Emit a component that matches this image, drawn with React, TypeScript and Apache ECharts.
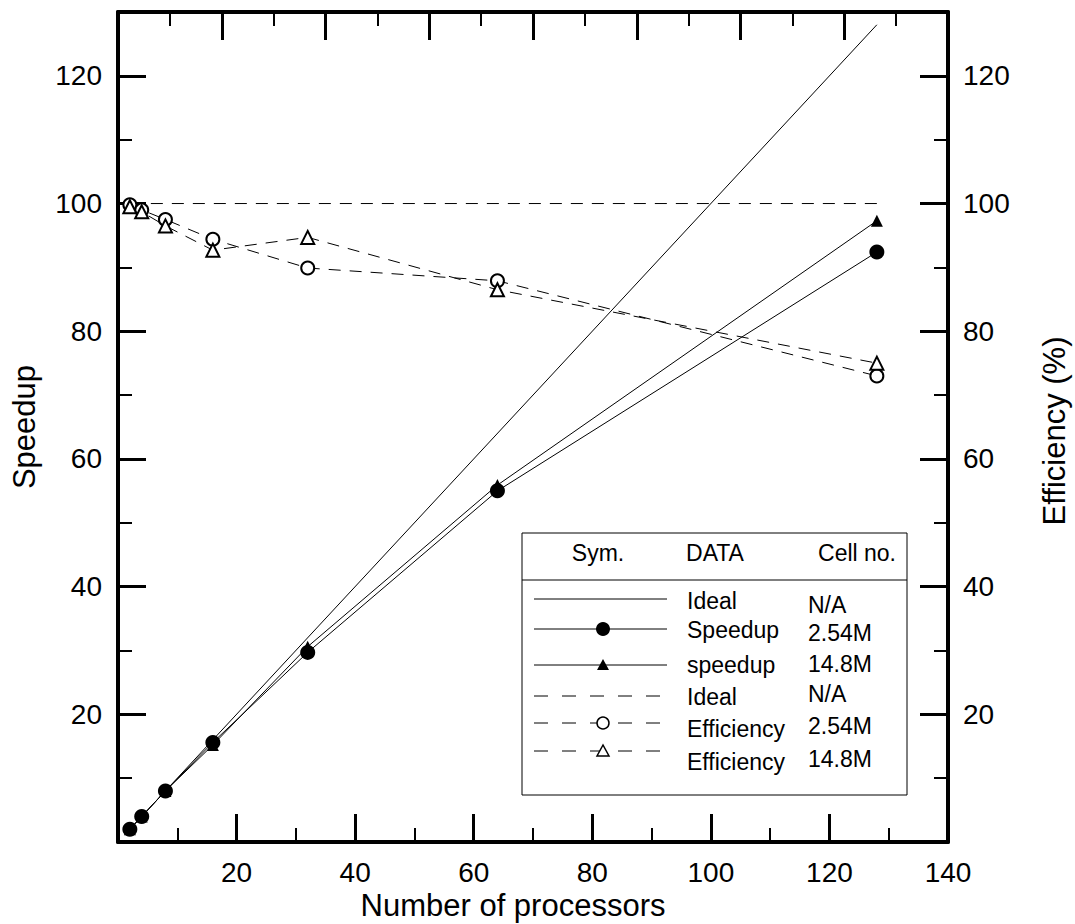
import React, { useEffect, useRef } from 'react';
import * as echarts from 'echarts';

const processors = [2, 4, 8, 16, 32, 64, 128];
const idealProcessors = [2, 128];
const speedup254 = [2, 4, 8, 15.6, 29.7, 55, 92.4];
const speedup148 = [2, 4, 8, 15.2, 30.6, 55.9, 97.3];
const efficiency254 = [99.8, 99, 97.5, 94.4, 89.9, 87.9, 73];
const efficiency148 = [99.5, 98.7, 96.5, 92.7, 94.7, 86.5, 75];
const idealEfficiency = 100;

const xTitle = 'Number of processors';
const yLeftTitle = 'Speedup';
const yRightTitle = 'Efficiency (%)';
const legendHeader = ['Sym.', 'DATA', 'Cell no.'];
const legendData = ['Ideal', 'Speedup', 'speedup', 'Ideal', 'Efficiency', 'Efficiency'];
const legendCells = ['N/A', '2.54M', '14.8M', 'N/A', '2.54M', '14.8M'];

const FONT = '"Liberation Sans", Arial, Helvetica, sans-serif';
const BLACK = '#000';

function pairs(xs: number[], ys: number[]) {
  return xs.map((x, i) => [x, ys[i]]);
}

export default function App() {
  const ref = useRef<HTMLDivElement>(null);

  useEffect(() => {
    if (!ref.current) return;
    const chart = echarts.init(ref.current, undefined, { renderer: 'svg' });

    const axisLine = { show: true, onZero: false, lineStyle: { color: BLACK, width: 4 } };
    const axisTick = { show: true, inside: true, length: 28, lineStyle: { color: BLACK, width: 3 } };
    const minorTick = { show: true, splitNumber: 2, length: 14, lineStyle: { color: BLACK, width: 2 } };
    const labelFmt = (v: number) => (v === 0 || v % 20 !== 0 ? '' : String(v));
    const axisLabel = { show: true, color: BLACK, fontSize: 28, fontFamily: FONT, formatter: labelFmt };

    const titleFont = `31px ${FONT}`;
    const legendFont = `23px ${FONT}`;

    // legend graphics
    const bx = 522, by = 533, bw = 385, bh = 262;
    const rowY = [601, 630, 665, 697, 729, 762];
    const lineY = [599, 629, 665, 696, 723, 751];
    const cellY = [605, 633, 664, 694, 726, 759];
    const graphics: any[] = [
      { type: 'text', x: 24, y: 427, rotation: Math.PI / 2, style: { text: yLeftTitle, font: titleFont, fill: BLACK, textAlign: 'center', textVerticalAlign: 'middle' } },
      { type: 'text', x: 1054, y: 431, rotation: Math.PI / 2, style: { text: yRightTitle, font: titleFont, fill: BLACK, textAlign: 'center', textVerticalAlign: 'middle' } },
      { type: 'text', x: 513, y: 905, style: { text: xTitle, font: titleFont, fill: BLACK, textAlign: 'center', textVerticalAlign: 'middle' } },
      { type: 'rect', shape: { x: bx, y: by, width: bw, height: bh }, style: { fill: '#fff', stroke: BLACK, lineWidth: 1 }, z: 100 },
      { type: 'line', shape: { x1: bx, y1: 580, x2: bx + bw, y2: 580 }, style: { stroke: BLACK, lineWidth: 1 }, z: 101 },
      { type: 'text', x: 598, y: 553, style: { text: legendHeader[0], font: legendFont, fill: BLACK, textAlign: 'center', textVerticalAlign: 'middle' }, z: 101 },
      { type: 'text', x: 715, y: 553, style: { text: legendHeader[1], font: legendFont, fill: BLACK, textAlign: 'center', textVerticalAlign: 'middle' }, z: 101 },
      { type: 'text', x: 857, y: 553, style: { text: legendHeader[2], font: legendFont, fill: BLACK, textAlign: 'center', textVerticalAlign: 'middle' }, z: 101 },
    ];
    legendData.forEach((name, i) => {
      graphics.push({ type: 'text', x: 687, y: rowY[i], style: { text: name, font: legendFont, fill: BLACK, textAlign: 'left', textVerticalAlign: 'middle' }, z: 101 });
      graphics.push({ type: 'text', x: 808, y: cellY[i], style: { text: legendCells[i], font: legendFont, fill: BLACK, textAlign: 'left', textVerticalAlign: 'middle' }, z: 101 });
      const dashed = i >= 3;
      graphics.push({
        type: 'line', shape: { x1: 534, y1: lineY[i], x2: 667, y2: lineY[i] },
        style: { stroke: BLACK, lineWidth: 1, lineDash: dashed ? [14, 14] : null }, z: 101,
      });
    });
    // markers in legend
    graphics.push({ type: 'circle', shape: { cx: 603, cy: lineY[1], r: 7 }, style: { fill: BLACK }, z: 102 });
    graphics.push({ type: 'polygon', shape: { points: [[603, lineY[2] - 6], [597, lineY[2] + 5], [609, lineY[2] + 5]] }, style: { fill: BLACK }, z: 102 });
    graphics.push({ type: 'circle', shape: { cx: 603, cy: lineY[4], r: 6 }, style: { fill: '#fff', stroke: BLACK, lineWidth: 1.5 }, z: 102 });
    graphics.push({ type: 'polygon', shape: { points: [[603, lineY[5] - 6], [597, lineY[5] + 5], [609, lineY[5] + 5]] }, style: { fill: '#fff', stroke: BLACK, lineWidth: 1.5 }, z: 102 });

    const option: any = {
      animation: false,
      backgroundColor: '#fff',
      grid: { left: 118, right: 127, top: 12, bottom: 82, containLabel: false },
      xAxis: [
        {
          type: 'value', position: 'bottom', min: 0, max: 140, interval: 20,
          axisLine, axisTick, minorTick, splitLine: { show: false }, minorSplitLine: { show: false },
          axisLabel: { ...axisLabel, margin: 16 },
        },
        {
          type: 'value', position: 'top', min: 0, max: 160, interval: 20,
          axisLine, axisTick, minorTick, splitLine: { show: false }, axisLabel: { show: false },
        },
      ],
      yAxis: [
        {
          type: 'value', position: 'left', min: 0, max: 130, interval: 20,
          axisLine, axisTick, minorTick, splitLine: { show: false },
          axisLabel: { ...axisLabel, margin: 16 },
        },
        {
          type: 'value', position: 'right', min: 0, max: 130, interval: 20,
          axisLine, axisTick, minorTick, splitLine: { show: false },
          axisLabel: { ...axisLabel, margin: 15 },
        },
      ],
      series: [
        {
          name: 'Ideal speedup', type: 'line', xAxisIndex: 0, yAxisIndex: 0,
          data: pairs(idealProcessors, idealProcessors), showSymbol: false, symbol: 'none',
          lineStyle: { color: BLACK, width: 1 },
        },
        {
          name: 'Speedup 2.54M', type: 'line', xAxisIndex: 0, yAxisIndex: 0,
          data: pairs(processors, speedup254), symbol: 'circle', symbolSize: 15,
          itemStyle: { color: BLACK }, lineStyle: { color: BLACK, width: 1 }, z: 3,
        },
        {
          name: 'speedup 14.8M', type: 'line', xAxisIndex: 0, yAxisIndex: 0,
          data: pairs(processors, speedup148), symbol: 'triangle', symbolSize: 12,
          itemStyle: { color: BLACK }, lineStyle: { color: BLACK, width: 1 }, z: 3,
        },
        {
          name: 'Ideal efficiency', type: 'line', xAxisIndex: 0, yAxisIndex: 1,
          data: pairs(idealProcessors, idealProcessors.map(() => idealEfficiency)), symbol: 'none',
          lineStyle: { color: BLACK, width: 1, type: [12, 9] },
        },
        {
          name: 'Efficiency 2.54M', type: 'line', xAxisIndex: 0, yAxisIndex: 1,
          data: pairs(processors, efficiency254), symbol: 'emptyCircle', symbolSize: 13,
          itemStyle: { color: BLACK, borderWidth: 1.5 }, lineStyle: { color: BLACK, width: 1, type: [12, 9] }, z: 3,
        },
        {
          name: 'Efficiency 14.8M', type: 'line', xAxisIndex: 0, yAxisIndex: 1,
          data: pairs(processors, efficiency148), symbol: 'emptyTriangle', symbolSize: 13,
          itemStyle: { color: BLACK, borderWidth: 1.5 }, lineStyle: { color: BLACK, width: 1, type: [12, 9] }, z: 3,
        },
      ],
      graphic: graphics,
    };

    chart.setOption(option);
    return () => chart.dispose();
  }, []);

  return (
    <div
      ref={ref}
      style={{ position: 'absolute', left: 0, top: 0, width: 1075, height: 924, background: '#fff' }}
    />
  );
}
